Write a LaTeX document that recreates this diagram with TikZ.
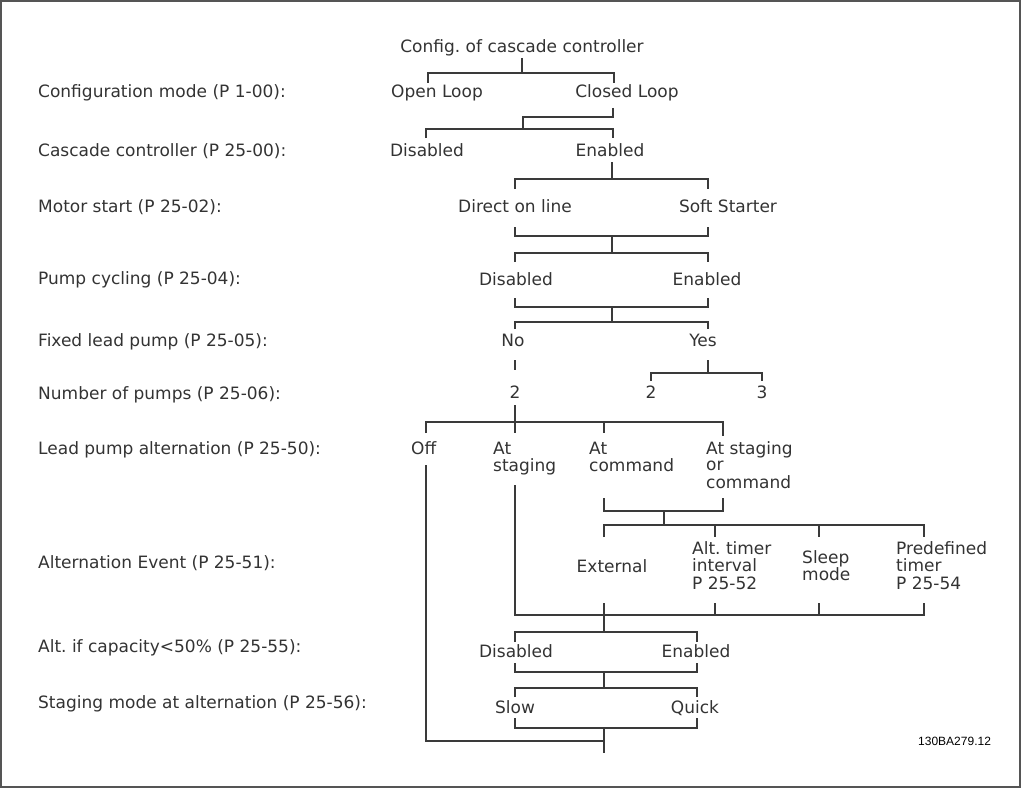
\documentclass[tikz,border=0pt]{standalone}
\usepackage{fontspec}
\setmainfont{DejaVu Sans}
\newfontfamily\codefont{Liberation Sans}
\frenchspacing
\definecolor{txt}{HTML}{333333}
\definecolor{ln}{HTML}{3A3A3A}
\definecolor{frm}{HTML}{555555}
\begin{document}
\begin{tikzpicture}[x=1pt,y=-1pt,
  lab/.style={font=\fontsize{17}{16.5}\selectfont, text=txt, inner sep=0pt, anchor=base},
  labl/.style={lab, anchor=base west},
  wire/.style={draw=ln, line width=1.2pt},
  frame/.style={draw=frm, line width=1.5pt}]
\useasboundingbox (0,0) rectangle (1022,789);
\draw[frame] (1,1) rectangle (1020,787);

% left labels
\node[labl] (l1) at (38,98) {Configuration mode (P 1-00):};
\node[labl] (l2) at (38,157) {Cascade controller (P 25-00):};
\node[labl] (l3) at (38,212) {Motor start (P 25-02):};
\node[labl] (l4) at (38,284) {Pump cycling (P 25-04):};
\node[labl] (l5) at (38,346) {Fixed lead pump (P 25-05):};
\node[labl] (l6) at (38,399) {Number of pumps (P 25-06):};
\node[labl] (l7) at (38,454) {Lead pump alternation (P 25-50):};
\node[labl] (l8) at (38,568) {Alternation Event (P 25-51):};
\node[labl] (l9) at (38,652) {Alt. if capacity<50\% (P 25-55):};
\node[labl] (l10) at (38,708) {Staging mode at alternation (P 25-56):};

% tree texts
\node[lab] (title) at (522,53) {Config. of cascade controller};
\node[lab] (ol) at (437,98) {Open Loop};
\node[lab] (cl) at (627,98) {Closed Loop};
\node[lab] (cdis) at (427,157) {Disabled};
\node[lab] (cen) at (610,157) {Enabled};
\node[lab] (dol) at (515,212) {Direct on line};
\node[lab] (ss) at (728,212) {Soft Starter};
\node[lab] (pdis) at (516,285) {Disabled};
\node[lab] (pen) at (707,285) {Enabled};
\node[lab] (no) at (513,346) {No};
\node[lab] (yes) at (703,346) {Yes};
\node[lab] (n2a) at (515,398) {2};
\node[lab] (n2b) at (651,398) {2};
\node[lab] (n3) at (762,398) {3};
\node[labl] (off) at (411,454) {Off};
\node[labl] (ast) at (493,454) {\begin{tabular}[t]{@{}l@{}}At\\staging\end{tabular}};
\node[labl] (acm) at (589,454) {\begin{tabular}[t]{@{}l@{}}At\\command\end{tabular}};
\node[labl] (asc) at (706,454) {\begin{tabular}[t]{@{}l@{}}At staging\\or\\command\end{tabular}};
\node[lab] (ext) at (612,572) {External};
\node[labl] (alt) at (692,554) {\begin{tabular}[t]{@{}l@{}}Alt. timer\\interval\\P 25-52\end{tabular}};
\node[labl] (slp) at (802,563) {\begin{tabular}[t]{@{}l@{}}Sleep\\mode\end{tabular}};
\node[labl] (pre) at (896,554) {\begin{tabular}[t]{@{}l@{}}Predefined\\timer\\P 25-54\end{tabular}};
\node[lab] (adis) at (516,657) {Disabled};
\node[lab] (aen) at (696,657) {Enabled};
\node[lab] (slow) at (515,713) {Slow};
\node[lab] (quick) at (695,713) {Quick};
\node[font=\codefont\fontsize{12}{14}\selectfont, inner sep=0pt, anchor=base west, text=black] (code) at (918,745) {130BA279.12};

% junction coordinates
\coordinate (j1) at (522,73);
\coordinate (j2) at (523,129);
\coordinate (j3) at (612,179);
\coordinate (j4) at (612,253);
\coordinate (j5) at (612,322);
\coordinate (j6) at (708,373);
\coordinate (j7) at (515,422);
\coordinate (j8) at (664,525);
\coordinate (j9) at (604,632);
\coordinate (j10) at (604,688);
\coordinate (j11) at (604,741);

% connectors
\draw[wire] (522,58) -- (j1);
\draw[wire] (428,83) -- (428,73) -- (614,73) -- (614,83);

\draw[wire] (613,108) -- (613,117) -- (523,117) -- (j2);
\draw[wire] (426,138) -- (426,129) -- (613,129) -- (613,138);

\draw[wire] (612,162) -- (j3);
\draw[wire] (515,189) -- (515,179) -- (708,179) -- (708,189);

\draw[wire] (515,227) -- (515,236) -- (708,236) -- (708,227);
\draw[wire] (612,236) -- (j4);
\draw[wire] (515,262) -- (515,253) -- (708,253) -- (708,262);

\draw[wire] (515,298) -- (515,307) -- (708,307) -- (708,298);
\draw[wire] (612,307) -- (j5);
\draw[wire] (515,329) -- (515,322) -- (708,322) -- (708,329);

\draw[wire] (515,360) -- (515,370);
\draw[wire] (708,360) -- (j6);
\draw[wire] (651,381) -- (651,373) -- (762,373) -- (762,381);

\draw[wire] (515,405) -- (515,433);
\draw[wire] (426,433) -- (426,422) -- (723,422) -- (723,436);
\draw[wire] (604,422) -- (604,433);

\draw[wire] (426,465) -- (426,741) -- (j11);
\draw[wire] (515,485) -- (515,615) -- (924,615) -- (924,603);
\draw[wire] (604,498) -- (604,511) -- (723,511) -- (723,498);
\draw[wire] (664,511) -- (j8);
\draw[wire] (604,537) -- (604,525) -- (924,525) -- (924,537);
\draw[wire] (715,525) -- (715,537);
\draw[wire] (819,525) -- (819,537);
\draw[wire] (604,603) -- (j9);
\draw[wire] (715,603) -- (715,615);
\draw[wire] (819,603) -- (819,615);

\draw[wire] (515,642) -- (515,632) -- (697,632) -- (697,642);
\draw[wire] (515,663) -- (515,672) -- (697,672) -- (697,663);
\draw[wire] (604,672) -- (j10);
\draw[wire] (515,697) -- (515,688) -- (697,688) -- (697,697);
\draw[wire] (515,718) -- (515,728) -- (697,728) -- (697,718);
\draw[wire] (604,728) -- (604,753);
\end{tikzpicture}
\end{document}
